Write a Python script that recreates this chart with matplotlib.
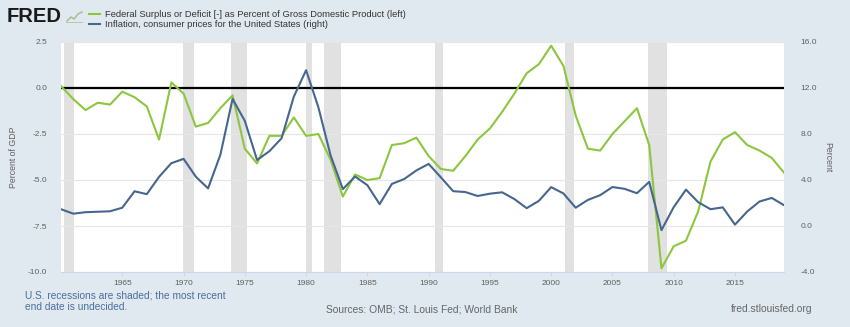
import numpy as np
import pandas as pd
import matplotlib
matplotlib.use('Agg')
import matplotlib.pyplot as plt
from matplotlib.lines import Line2D

plt.rcParams['font.family'] = ['Liberation Sans', 'DejaVu Sans']

years = list(range(1960, 2020))

# Federal surplus or deficit, percent of GDP (left axis)
surplus = [0.1, -0.6, -1.2, -0.8, -0.9, -0.2, -0.5, -1.0, -2.8, 0.3,
           -0.3, -2.1, -1.9, -1.1, -0.4, -3.3, -4.1, -2.6, -2.6, -1.6,
           -2.6, -2.5, -3.9, -5.9, -4.7, -5.0, -4.9, -3.1, -3.0, -2.7,
           -3.7, -4.4, -4.5, -3.7, -2.8, -2.2, -1.3, -0.3, 0.8, 1.3,
           2.3, 1.2, -1.5, -3.3, -3.4, -2.5, -1.8, -1.1, -3.1, -9.8,
           -8.6, -8.3, -6.7, -4.0, -2.8, -2.4, -3.1, -3.4, -3.8, -4.6]

# Inflation, consumer prices, percent (right axis)
inflation = [1.46, 1.07, 1.20, 1.24, 1.28, 1.59, 3.02, 2.77, 4.27, 5.46,
             5.84, 4.29, 3.27, 6.18, 11.05, 9.14, 5.74, 6.50, 7.63, 11.25,
             13.55, 10.33, 6.13, 3.21, 4.30, 3.55, 1.90, 3.66, 4.08, 4.83,
             5.40, 4.23, 3.03, 2.95, 2.61, 2.81, 2.93, 2.34, 1.55, 2.19,
             3.38, 2.83, 1.59, 2.27, 2.68, 3.39, 3.23, 2.85, 3.84, -0.36,
             1.64, 3.16, 2.07, 1.46, 1.62, 0.12, 1.26, 2.13, 2.44, 1.81]

rec_start = ['1960-04-01', '1969-12-01', '1973-11-01', '1980-01-01',
             '1981-07-01', '1990-07-01', '2001-03-01', '2007-12-01']
rec_end = ['1961-02-01', '1970-11-01', '1975-03-01', '1980-07-01',
           '1982-11-01', '1991-03-01', '2001-11-01', '2009-06-01']

left_ticks = [2.5, 0.0, -2.5, -5.0, -7.5, -10.0]
right_ticks = [16, 12, 8, 4, 0, -4]
x_years = list(range(1965, 2016, 5))

dates = pd.to_datetime([f'{y}-01-01' for y in years])

bg = '#e1e9f0'
green = '#8cc63f'
blue = '#46668f'
tick_col = '#606060'

W, H = 850, 327


def fx(px):
    return px / W


def fy(py):
    return 1 - py / H


fig = plt.figure(figsize=(8.5, 3.27), dpi=100, facecolor=bg)
ax = fig.add_axes([fx(61), fy(272), 723 / W, 230 / H])
ax.set_facecolor('white')

for s, e in zip(rec_start, rec_end):
    ax.axvspan(pd.Timestamp(s), pd.Timestamp(e), color='#e1e1e1', lw=0, zorder=0)

ax.set_ylim(-10, 2.5)
ax.set_yticks(left_ticks)
ax.set_yticklabels([f'{v:.1f}' for v in left_ticks])
ax.grid(axis='y', color='#e6e6e6', lw=0.8, zorder=1)
ax.set_axisbelow(True)
ax.axhline(0, color='black', lw=1.6, zorder=2)
ax.plot(dates, surplus, color=green, lw=1.5, zorder=3)

ax.set_xlim(pd.Timestamp('1960-01-01'), pd.Timestamp('2019-01-01'))
ax.set_xticks([pd.Timestamp(f'{y}-01-01') for y in x_years])
ax.set_xticklabels([str(y) for y in x_years])

for sp in ['top', 'left', 'right']:
    ax.spines[sp].set_visible(False)
ax.spines['bottom'].set_color('#ccd6eb')
ax.tick_params(axis='x', colors='#ccd6eb', labelcolor=tick_col, labelsize=6,
               length=3, pad=3)
ax.tick_params(axis='y', length=0, labelcolor=tick_col, labelsize=6, pad=10)

ax2 = ax.twinx()
ax2.set_ylim(-4, 16)
ax2.set_yticks(right_ticks)
ax2.set_yticklabels([f'{v:.1f}' for v in right_ticks])
ax2.plot(dates, inflation, color=blue, lw=1.5, zorder=3)
for sp in ['top', 'left', 'right', 'bottom']:
    ax2.spines[sp].set_visible(False)
ax2.tick_params(axis='y', length=0, labelcolor=tick_col, labelsize=6, pad=12)

fig.text(fx(14), fy(157), 'Percent of GDP', rotation=90, fontsize=6.3,
         color=tick_col, ha='center', va='center')
fig.text(fx(828), fy(157), 'Percent', rotation=270, fontsize=6.3,
         color=tick_col, ha='center', va='center')

# header: logo and legend
fig.text(fx(7), fy(16), 'FRED', fontsize=14.5, fontweight='bold',
         color='#1a1a1a', va='center', ha='left')
fig.lines.append(Line2D([fx(67), fx(71), fx(74), fx(78), fx(82)],
                        [fy(21), fy(17), fy(19), fy(14), fy(12)],
                        transform=fig.transFigure, color='#a9bd93', lw=1.1))
fig.lines.append(Line2D([fx(66), fx(82)], [fy(21.5), fy(21.5)],
                        transform=fig.transFigure, color='#b9c6b0', lw=0.7))
fig.lines.append(Line2D([fx(89), fx(100)], [fy(14), fy(14)],
                        transform=fig.transFigure, color=green, lw=1.5))
fig.lines.append(Line2D([fx(89), fx(100)], [fy(24), fy(24)],
                        transform=fig.transFigure, color=blue, lw=1.5))
fig.text(fx(105), fy(14.5),
         'Federal Surplus or Deficit [-] as Percent of Gross Domestic Product (left)',
         fontsize=6.75, color='#333333', va='center')
fig.text(fx(105), fy(24.5),
         'Inflation, consumer prices for the United States (right)',
         fontsize=6.75, color='#333333', va='center')

# footer
fig.text(fx(25), fy(295), 'U.S. recessions are shaded; the most recent',
         fontsize=7.3, color='#4a6e9e', va='center')
fig.text(fx(25), fy(307), 'end date is undecided.',
         fontsize=7.3, color='#4a6e9e', va='center')
fig.text(fx(326), fy(309), 'Sources: OMB; St. Louis Fed; World Bank',
         fontsize=7.4, color='#666666', va='center')
fig.text(fx(813), fy(309), 'fred.stlouisfed.org',
         fontsize=7.4, color='#666666', va='center', ha='right')

fig.savefig('out.png', dpi=100, facecolor=bg)
